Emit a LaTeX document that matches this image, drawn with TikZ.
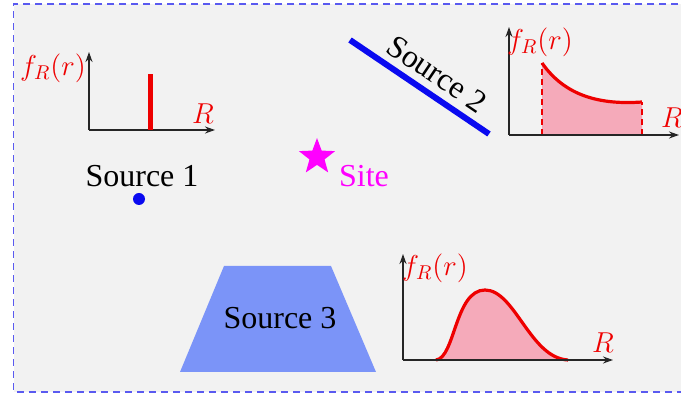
\documentclass[tikz,border=0pt]{standalone}
\usepackage{fontspec}
\setmainfont{Liberation Serif}
\usetikzlibrary{arrows.meta,shapes.geometric,positioning}
\definecolor{bgpanel}{HTML}{F2F2F2}
\definecolor{frameblue}{HTML}{5A5AF0}
\definecolor{pdfred}{HTML}{EE0000}
\definecolor{pdffill}{HTML}{F5AABA}
\definecolor{srcblue}{HTML}{0A0AF0}
\definecolor{areablue}{HTML}{7B94F8}
\definecolor{sitemag}{HTML}{FF00FF}
\tikzset{
  axis/.style={draw=black!85,line width=1pt,-{Stealth[length=5pt,width=3.5pt]}},
  pdfline/.style={draw=pdfred,line width=1.6pt},
  pdfedge/.style={draw=pdfred,line width=1pt,dash pattern=on 3pt off 2pt},
  pdfarea/.style={fill=pdffill},
  pdflabel/.style={text=pdfred,font=\fontsize{14}{16}\selectfont,inner sep=0pt},
  srclabel/.style={font=\fontsize{16}{19}\selectfont,inner sep=0pt},
}

\begin{document}
\begin{tikzpicture}[x=0.5pt,y=0.5pt]
  \path[use as bounding box] (0,0) rectangle (681,396);
  % panel and its dashed frame
  \fill[bgpanel] (13.5,4) rectangle (690,392);
  \draw[frameblue,line width=0.9pt,dash pattern=on 3.5pt off 2.5pt]
    (690,392) -- (13.5,392) -- (13.5,4) -- (690,4);
  % source 1: point source and its distance pdf
  \coordinate (o1) at (89,266);
  \draw[axis] (o1) -- (89,344);
  \draw[axis] (o1) -- (215,266);
  \draw[pdfred,line width=2.5pt] (150.5,266) -- (150.5,322);
  \node[pdflabel] (f1) at (53,328) {$f_R(r)$};
  \node[pdflabel] (r1) at (203,282) {$R$};
  \node[srclabel] (s1) at (142,220) {Source 1};
  \fill[srcblue] (139,197) circle (3pt);
  % site
  \node[star,star points=5,star point ratio=2.4,fill=sitemag,
    minimum size=19pt,inner sep=0pt] (site) at (317,239) {};
  \node[srclabel,text=sitemag] (sitelab) at (364,220) {Site};
  % source 2: line source
  \coordinate (l2a) at (350,356);
  \coordinate (l2b) at (489,262);
  \draw[srcblue,line width=3pt] (l2a) -- (l2b);
  \node[srclabel,rotate=-34] (s2) at (437,322) {Source 2};
  \coordinate (o2) at (509,261);
  \fill[pdfarea] (542,261) -- (542,333) .. controls (565,300) and (600,291) ..
    (642,294) -- (642,261) -- cycle;
  \draw[pdfedge] (542,261) -- (542,333);
  \draw[pdfedge] (642,261) -- (642,294);
  \draw[pdfline] (542,333) .. controls (565,300) and (600,291) .. (642,294);
  \draw[axis] (o2) -- (509,369);
  \draw[axis] (o2) -- (679,261);
  \node[pdflabel] (f2) at (540,354) {$f_R(r)$};
  \node[pdflabel] (r2) at (672,278) {$R$};
  % source 3: area source
  \fill[areablue] (180,24) -- (376,24) -- (331,130) -- (224,130) -- cycle;
  \node[srclabel] (s3) at (280,78) {Source 3};
  \coordinate (o3) at (403,36);
  \fill[pdfarea] (436,36) .. controls (455,38) and (455,106) .. (485,106)
    .. controls (515,106) and (530,38) .. (568,36) -- cycle;
  \draw[pdfline] (436,36) .. controls (455,38) and (455,106) .. (485,106)
    .. controls (515,106) and (530,38) .. (568,36);
  \draw[axis] (o3) -- (403,142);
  \draw[axis] (o3) -- (613,36);
  \node[pdflabel] (f3) at (435,128) {$f_R(r)$};
  \node[pdflabel] (r3) at (603,53) {$R$};
\end{tikzpicture}
\end{document}
